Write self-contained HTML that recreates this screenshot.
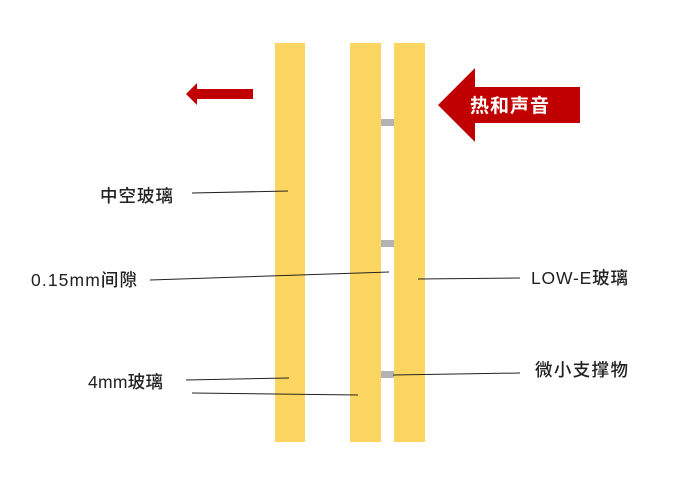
<!DOCTYPE html>
<html><head><meta charset="utf-8"><style>
html,body{margin:0;padding:0;background:#fff;}
body{width:679px;height:483px;overflow:hidden;}
</style></head><body>
<svg width="679" height="483" xmlns="http://www.w3.org/2000/svg" font-family="'Liberation Sans','Noto Sans CJK SC',sans-serif">
<rect width="679" height="483" fill="#fff"/>
<rect x="275" y="43" width="30" height="399" fill="#fdd662"/>
<rect x="350" y="43" width="31" height="399" fill="#fdd662"/>
<rect x="394" y="43" width="31" height="399" fill="#fdd662"/>
<rect x="381" y="119" width="13" height="7" fill="#b3b3b3"/>
<rect x="381" y="240" width="13" height="7" fill="#b3b3b3"/>
<rect x="381" y="371" width="13" height="7" fill="#b3b3b3"/>
<polygon points="186,94 197,83 197,89 253,89 253,99 197,99 197,105" fill="#c00000"/>
<polygon points="438,105 475,68 475,87 580,87 580,123 475,123 475,142" fill="#c00000"/>
<text x="510" y="112" fill="#fff" font-size="19" font-weight="bold" text-anchor="middle" letter-spacing="1">热和声音</text>
<g stroke="#222" stroke-width="1">
<line x1="192" y1="193" x2="288" y2="191"/>
<line x1="150" y1="280" x2="389" y2="272"/>
<line x1="418" y1="279" x2="520" y2="278"/>
<line x1="186" y1="380" x2="289" y2="378"/>
<line x1="192" y1="393" x2="358" y2="395"/>
<line x1="393" y1="375" x2="520" y2="373"/>
</g>
<g font-size="17.5" fill="#222" font-weight="500">
<text x="100" y="202" textLength="73" lengthAdjust="spacing">中空玻璃</text>
<text x="31" y="286" textLength="106" lengthAdjust="spacing">0.15mm间隙</text>
<text x="531" y="284" textLength="97" lengthAdjust="spacing">LOW-E玻璃</text>
<text x="88" y="388" textLength="75" lengthAdjust="spacing">4mm玻璃</text>
<text x="535" y="376" textLength="93" lengthAdjust="spacing">微小支撑物</text>
</g>
</svg>
</body></html>
